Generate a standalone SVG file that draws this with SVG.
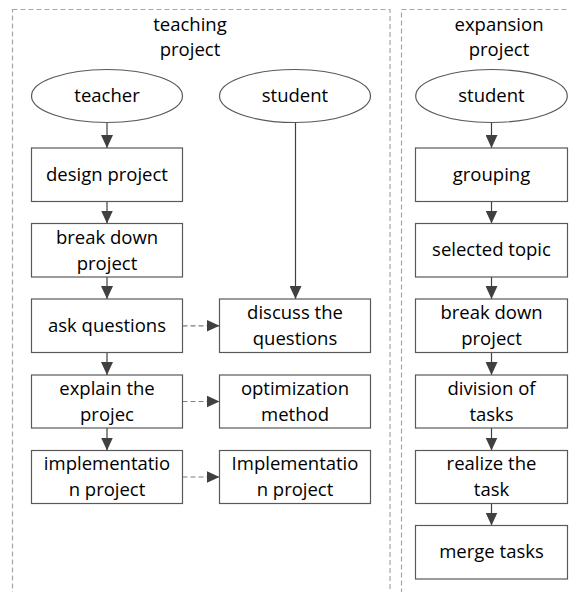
<svg xmlns="http://www.w3.org/2000/svg" width="569" height="592" viewBox="0 0 569 592">
<style>
.box{fill:#fff;stroke:#595959;stroke-width:1.2}
.cont{fill:none;stroke:#a6a6a6;stroke-width:1.2;stroke-dasharray:5 3}
.t{font-family:"Open Sans","Liberation Sans",sans-serif;font-size:18.5px;fill:#000;text-anchor:middle}
.ln{stroke:#404040;stroke-width:1.2;fill:none}
.dl{stroke:#7f7f7f;stroke-width:1.2;fill:none;stroke-dasharray:5 3}
</style>
<defs>
<marker id="ah" markerUnits="userSpaceOnUse" markerWidth="13" markerHeight="12" refX="13" refY="6" orient="auto">
<path d="M0,0 L13,6 L0,12 z" fill="#404040"/>
</marker>
</defs>
<rect class="cont" x="12.5" y="9.5" width="377.5" height="620"/>
<rect class="cont" x="401.5" y="9.5" width="200" height="620"/>
<g id="title-teaching"><text class="t" x="190" y="31">teaching</text><text class="t" x="190" y="56">project</text></g>
<g id="title-expansion"><text class="t" x="499" y="31">expansion</text><text class="t" x="499" y="56">project</text></g>

<g id="connectors">
<line class="ln" x1="107" y1="122.5" x2="107" y2="148" marker-end="url(#ah)"/>
<line class="ln" x1="107" y1="201.5" x2="107" y2="223.5" marker-end="url(#ah)"/>
<line class="ln" x1="107" y1="277" x2="107" y2="299" marker-end="url(#ah)"/>
<line class="ln" x1="107" y1="352.5" x2="107" y2="375" marker-end="url(#ah)"/>
<line class="ln" x1="107" y1="428" x2="107" y2="450.5" marker-end="url(#ah)"/>
<line class="ln" x1="295.5" y1="122.5" x2="295.5" y2="299" marker-end="url(#ah)"/>
<line class="dl" x1="182.5" y1="325.8" x2="219.5" y2="325.8" marker-end="url(#ah)"/>
<line class="dl" x1="182.5" y1="401.5" x2="219.5" y2="401.5" marker-end="url(#ah)"/>
<line class="dl" x1="182.5" y1="477" x2="219.5" y2="477" marker-end="url(#ah)"/>
<line class="ln" x1="491.5" y1="122.5" x2="491.5" y2="148" marker-end="url(#ah)"/>
<line class="ln" x1="491.5" y1="201.5" x2="491.5" y2="223.5" marker-end="url(#ah)"/>
<line class="ln" x1="491.5" y1="277" x2="491.5" y2="299" marker-end="url(#ah)"/>
<line class="ln" x1="491.5" y1="352.5" x2="491.5" y2="375" marker-end="url(#ah)"/>
<line class="ln" x1="491.5" y1="428" x2="491.5" y2="450.5" marker-end="url(#ah)"/>
<line class="ln" x1="491.5" y1="503.5" x2="491.5" y2="525.5" marker-end="url(#ah)"/>
</g>

<g id="teacher"><ellipse class="box" cx="107" cy="96" rx="75.5" ry="26.5"/><text class="t" x="107" y="102">teacher</text></g>
<g id="design-project"><rect class="box" x="31.5" y="148" width="151" height="53.5"/><text class="t" x="107" y="181">design project</text></g>
<g id="break-down-project"><rect class="box" x="31.5" y="223.5" width="151" height="53.5"/><text class="t" x="107" y="244">break down</text><text class="t" x="107" y="270">project</text></g>
<g id="ask-questions"><rect class="box" x="31.5" y="299" width="151" height="53.5"/><text class="t" x="107" y="332">ask questions</text></g>
<g id="explain-the-projec"><rect class="box" x="31.5" y="375" width="151" height="53"/><text class="t" x="107" y="395">explain the</text><text class="t" x="107" y="421">projec</text></g>
<g id="implementation-project"><rect class="box" x="31.5" y="450.5" width="151" height="53"/><text class="t" x="107" y="470">implementatio</text><text class="t" x="107" y="496">n project</text></g>

<g id="student-teaching"><ellipse class="box" cx="295" cy="96" rx="75.5" ry="26.5"/><text class="t" x="295" y="102">student</text></g>
<g id="discuss-the-questions"><rect class="box" x="219.5" y="299" width="151" height="53.5"/><text class="t" x="295" y="319">discuss the</text><text class="t" x="295" y="345">questions</text></g>
<g id="optimization-method"><rect class="box" x="219.5" y="375" width="151" height="53"/><text class="t" x="295" y="395">optimization</text><text class="t" x="295" y="421">method</text></g>
<g id="implementation-project-2"><rect class="box" x="219.5" y="450.5" width="151" height="53"/><text class="t" x="295" y="470">Implementatio</text><text class="t" x="295" y="496">n project</text></g>

<g id="student-expansion"><ellipse class="box" cx="491.5" cy="96" rx="75.8" ry="26.5"/><text class="t" x="491.5" y="102">student</text></g>
<g id="grouping"><rect class="box" x="415.5" y="148" width="152" height="53.5"/><text class="t" x="491.5" y="181">grouping</text></g>
<g id="selected-topic"><rect class="box" x="415.5" y="223.5" width="152" height="53.5"/><text class="t" x="491.5" y="256">selected topic</text></g>
<g id="break-down-project-2"><rect class="box" x="415.5" y="299" width="152" height="53.5"/><text class="t" x="491.5" y="319">break down</text><text class="t" x="491.5" y="345">project</text></g>
<g id="division-of-tasks"><rect class="box" x="415.5" y="375" width="152" height="53"/><text class="t" x="491.5" y="395">division of</text><text class="t" x="491.5" y="421">tasks</text></g>
<g id="realize-the-task"><rect class="box" x="415.5" y="450.5" width="152" height="53"/><text class="t" x="491.5" y="470">realize the</text><text class="t" x="491.5" y="496">task</text></g>
<g id="merge-tasks"><rect class="box" x="415.5" y="525.5" width="152" height="53.5"/><text class="t" x="491.5" y="558">merge tasks</text></g>
</svg>
